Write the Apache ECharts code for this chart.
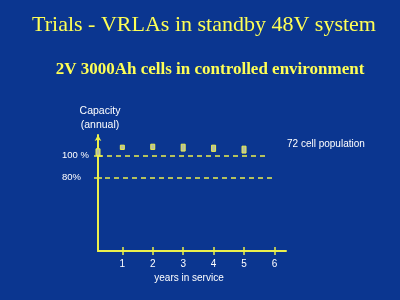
<!DOCTYPE html>
<html><head><meta charset="utf-8">
<script src="https://cdn.jsdelivr.net/npm/echarts@6/dist/echarts.min.js"></script>
<style>html,body{margin:0;padding:0;background:#0b3690}#c{width:400px;height:300px}</style>
</head><body><div id="c"></div>
<script>
// Data
const years = [0.2, 1, 2, 3, 4, 5];            // position of each annual test
const capLow = [100.4, 105.8, 105.8, 104.3, 104.0, 102.5];  // % capacity, lowest cell
const capHigh = [106.4, 109.7, 110.6, 110.6, 109.7, 108.8]; // % capacity, highest cell
const xTicks = [1, 2, 3, 4, 5, 6];
const yTicks = [80, 100];
const yTickLabels = {80: '80%', 100: '100 %'};
const refLevels = [100, 80];
const refStart = [0.2, 0.43];
const refEnd = [5.8, 5.96];

const YEL = '#ecf04c';
const chart = echarts.init(document.getElementById('c'));
const boxData = years.map((x, i) => [x, capLow[i], capHigh[i]]);
const xCommon = {type: 'value', min: 0.2, max: 6.38, splitLine: {show: false}};
const yCommon = {type: 'value', min: 13, max: 119, splitLine: {show: false}};
chart.setOption({
  backgroundColor: '#0b3690',
  animation: false,
  grid: {left: 98, right: 114, top: 135, bottom: 49},
  xAxis: [
    Object.assign({}, xCommon, {
      axisLine: {lineStyle: {color: YEL, width: 2}},
      axisTick: {customValues: xTicks, length: 4, lineStyle: {color: YEL, width: 1.5}},
      axisLabel: {customValues: xTicks, color: '#fff', fontFamily: 'Liberation Sans', fontSize: 10, margin: 8}
    }),
    Object.assign({}, xCommon, {
      position: 'bottom',
      axisLine: {show: false},
      axisTick: {customValues: xTicks, inside: true, length: 4, lineStyle: {color: YEL, width: 1.5}},
      axisLabel: {show: false}
    })
  ],
  yAxis: [
    Object.assign({}, yCommon, {
      axisLine: {show: true, symbol: ['none', 'arrow'], symbolSize: [5, 6], lineStyle: {color: YEL, width: 2}},
      axisTick: {customValues: yTicks, length: 4, lineStyle: {color: YEL, width: 1.5}},
      axisLabel: {customValues: yTicks, color: '#fff', fontFamily: 'Liberation Sans', fontSize: 9.5, margin: 36,
        align: 'left', formatter: v => yTickLabels[v]}
    }),
    Object.assign({}, yCommon, {
      position: 'left',
      axisLine: {show: false},
      axisTick: {customValues: yTicks, inside: true, length: 4, lineStyle: {color: YEL, width: 1.5}},
      axisLabel: {show: false}
    })
  ],
  series: [
    {
      type: 'line', data: [], xAxisIndex: 0, yAxisIndex: 0,
      markLine: {
        silent: true, symbol: 'none', label: {show: false},
        lineStyle: {color: YEL, type: [5, 4], width: 1.5},
        data: refLevels.map((lv, i) => [{coord: [refStart[i], lv]}, {coord: [refEnd[i], lv]}])
      }
    },
    {
      type: 'custom', xAxisIndex: 0, yAxisIndex: 0,
      data: boxData,
      renderItem: (params, api) => {
        const lo = api.coord([api.value(0), api.value(1)]);
        const hi = api.coord([api.value(0), api.value(2)]);
        return {
          type: 'rect',
          shape: {x: lo[0] - 2, y: hi[1], width: 4, height: lo[1] - hi[1]},
          style: {fill: '#b8c0a0', stroke: YEL, lineWidth: 1}
        };
      }
    }
  ],
  graphic: [
    {type: 'text', x: 204, top: 14, style: {text: 'Trials - VRLAs in standby 48V system', fill: '#ffff55', font: '22px "Liberation Serif"', textAlign: 'center'}},
    {type: 'text', x: 210, top: 61, style: {text: '2V 3000Ah cells in controlled environment', fill: '#ffff55', font: 'bold 17px "Liberation Serif"', textAlign: 'center'}},
    {type: 'text', x: 100, y: 104, style: {text: 'Capacity\n(annual)', fill: '#fff', font: '10.5px "Liberation Sans"', textAlign: 'center', lineHeight: 14}},
    {type: 'text', x: 287, y: 139, style: {text: '72 cell population', fill: '#fff', font: '10px "Liberation Sans"'}},
    {type: 'text', x: 189, y: 273, style: {text: 'years in service', fill: '#fff', font: '10px "Liberation Sans"', textAlign: 'center'}}
  ]
});
</script></body></html>
